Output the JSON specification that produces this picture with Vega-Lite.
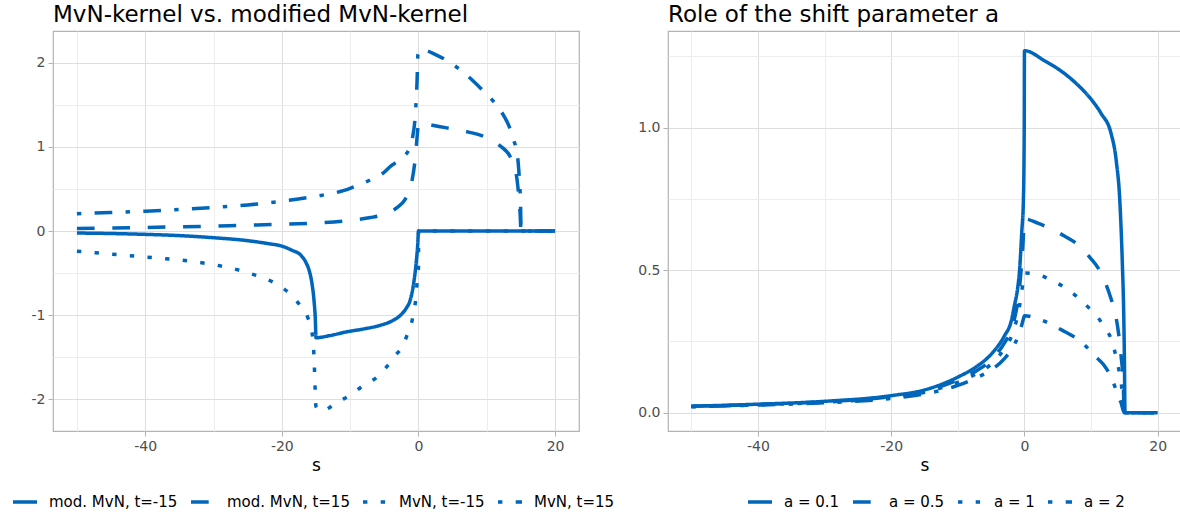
{
  "$schema": "https://vega.github.io/schema/vega-lite/v6.json",
  "padding": {"left": 10, "top": 3, "right": 0, "bottom": 0},
  "background": "white",
  "config": {
    "view": {"stroke": "#b3b3b3", "strokeWidth": 1.2},
    "axis": {
      "domain": false,
      "labelFont": "DejaVu Sans",
      "labelFontSize": 14,
      "labelColor": "#4d4d4d",
      "labelPadding": 3,
      "tickSize": 5,
      "titleFont": "DejaVu Sans",
      "titleFontSize": 17,
      "titleFontWeight": "normal",
      "titleColor": "black",
      "titlePadding": 4
    },
    "title": {"font": "DejaVu Sans", "fontSize": 23, "fontWeight": "normal", "color": "black", "anchor": "start", "frame": "group", "offset": 4},
    "legend": {
      "labelFont": "DejaVu Sans",
      "labelFontSize": 15,
      "labelColor": "black",
      "labelLimit": 0,
      "symbolType": "stroke",
      "symbolSize": 576,
      "symbolStrokeWidth": 3.5,
      "symbolStrokeColor": "#0066bb",
      "labelOffset": 10,
      "columnPadding": 6,
      "padding": 0
    }
  },
  "datasets": {
    "left": [
      {"s": -50, "y": 0.205, "series": "MvN, t=15"},
      {"s": -45, "y": 0.22, "series": "MvN, t=15"},
      {"s": -40, "y": 0.235, "series": "MvN, t=15"},
      {"s": -35, "y": 0.255, "series": "MvN, t=15"},
      {"s": -30, "y": 0.28, "series": "MvN, t=15"},
      {"s": -25, "y": 0.31, "series": "MvN, t=15"},
      {"s": -20, "y": 0.355, "series": "MvN, t=15"},
      {"s": -16, "y": 0.4, "series": "MvN, t=15"},
      {"s": -13.5, "y": 0.435, "series": "MvN, t=15"},
      {"s": -11, "y": 0.48, "series": "MvN, t=15"},
      {"s": -9.5, "y": 0.525, "series": "MvN, t=15"},
      {"s": -7, "y": 0.61, "series": "MvN, t=15"},
      {"s": -5, "y": 0.7, "series": "MvN, t=15"},
      {"s": -4.1, "y": 0.77, "series": "MvN, t=15"},
      {"s": -3, "y": 0.83, "series": "MvN, t=15"},
      {"s": -2.1, "y": 0.89, "series": "MvN, t=15"},
      {"s": -1.4, "y": 0.97, "series": "MvN, t=15"},
      {"s": -0.92, "y": 1.09, "series": "MvN, t=15"},
      {"s": -0.44, "y": 1.41, "series": "MvN, t=15"},
      {"s": -0.2, "y": 1.8, "series": "MvN, t=15"},
      {"s": -0.08, "y": 2.1, "series": "MvN, t=15"},
      {"s": 0.3, "y": 2.16, "series": "MvN, t=15"},
      {"s": 2.5, "y": 2.1, "series": "MvN, t=15"},
      {"s": 4.7, "y": 2.0, "series": "MvN, t=15"},
      {"s": 7, "y": 1.86, "series": "MvN, t=15"},
      {"s": 9.1, "y": 1.7, "series": "MvN, t=15"},
      {"s": 11, "y": 1.54, "series": "MvN, t=15"},
      {"s": 12.5, "y": 1.37, "series": "MvN, t=15"},
      {"s": 13.3, "y": 1.24, "series": "MvN, t=15"},
      {"s": 13.9, "y": 1.09, "series": "MvN, t=15"},
      {"s": 14.5, "y": 0.89, "series": "MvN, t=15"},
      {"s": 14.8, "y": 0.57, "series": "MvN, t=15"},
      {"s": 14.95, "y": 0.3, "series": "MvN, t=15"},
      {"s": 15, "y": 0, "series": "MvN, t=15"},
      {"s": 20, "y": 0, "series": "MvN, t=15"},

      {"s": -50, "y": 0.03, "series": "mod. MvN, t=15"},
      {"s": -40, "y": 0.042, "series": "mod. MvN, t=15"},
      {"s": -30, "y": 0.058, "series": "mod. MvN, t=15"},
      {"s": -25, "y": 0.068, "series": "mod. MvN, t=15"},
      {"s": -20, "y": 0.08, "series": "mod. MvN, t=15"},
      {"s": -15, "y": 0.095, "series": "mod. MvN, t=15"},
      {"s": -11, "y": 0.118, "series": "mod. MvN, t=15"},
      {"s": -9, "y": 0.135, "series": "mod. MvN, t=15"},
      {"s": -7, "y": 0.16, "series": "mod. MvN, t=15"},
      {"s": -5, "y": 0.2, "series": "mod. MvN, t=15"},
      {"s": -3.1, "y": 0.28, "series": "mod. MvN, t=15"},
      {"s": -2, "y": 0.37, "series": "mod. MvN, t=15"},
      {"s": -1.4, "y": 0.47, "series": "mod. MvN, t=15"},
      {"s": -0.92, "y": 0.61, "series": "mod. MvN, t=15"},
      {"s": -0.44, "y": 0.89, "series": "mod. MvN, t=15"},
      {"s": -0.2, "y": 1.12, "series": "mod. MvN, t=15"},
      {"s": -0.05, "y": 1.25, "series": "mod. MvN, t=15"},
      {"s": 0, "y": 1.28, "series": "mod. MvN, t=15"},
      {"s": 3.2, "y": 1.24, "series": "mod. MvN, t=15"},
      {"s": 6.6, "y": 1.19, "series": "mod. MvN, t=15"},
      {"s": 10, "y": 1.11, "series": "mod. MvN, t=15"},
      {"s": 12, "y": 1.01, "series": "mod. MvN, t=15"},
      {"s": 13.4, "y": 0.89, "series": "mod. MvN, t=15"},
      {"s": 14.2, "y": 0.73, "series": "mod. MvN, t=15"},
      {"s": 14.6, "y": 0.49, "series": "mod. MvN, t=15"},
      {"s": 14.9, "y": 0.18, "series": "mod. MvN, t=15"},
      {"s": 15, "y": 0, "series": "mod. MvN, t=15"},
      {"s": 20, "y": 0, "series": "mod. MvN, t=15"},

      {"s": -50, "y": -0.24, "series": "MvN, t=-15"},
      {"s": -45, "y": -0.275, "series": "MvN, t=-15"},
      {"s": -40, "y": -0.31, "series": "MvN, t=-15"},
      {"s": -35, "y": -0.345, "series": "MvN, t=-15"},
      {"s": -30, "y": -0.4, "series": "MvN, t=-15"},
      {"s": -27, "y": -0.45, "series": "MvN, t=-15"},
      {"s": -24.5, "y": -0.51, "series": "MvN, t=-15"},
      {"s": -22, "y": -0.58, "series": "MvN, t=-15"},
      {"s": -20.2, "y": -0.66, "series": "MvN, t=-15"},
      {"s": -18.4, "y": -0.78, "series": "MvN, t=-15"},
      {"s": -17.2, "y": -0.9, "series": "MvN, t=-15"},
      {"s": -16.2, "y": -1.03, "series": "MvN, t=-15"},
      {"s": -15.6, "y": -1.2, "series": "MvN, t=-15"},
      {"s": -15.35, "y": -1.4, "series": "MvN, t=-15"},
      {"s": -15.2, "y": -1.7, "series": "MvN, t=-15"},
      {"s": -15.1, "y": -1.95, "series": "MvN, t=-15"},
      {"s": -15, "y": -2.09, "series": "MvN, t=-15"},
      {"s": -14.6, "y": -2.13, "series": "MvN, t=-15"},
      {"s": -14.1, "y": -2.14, "series": "MvN, t=-15"},
      {"s": -13, "y": -2.1, "series": "MvN, t=-15"},
      {"s": -11.9, "y": -2.04, "series": "MvN, t=-15"},
      {"s": -9.9, "y": -1.95, "series": "MvN, t=-15"},
      {"s": -8.1, "y": -1.84, "series": "MvN, t=-15"},
      {"s": -6.1, "y": -1.74, "series": "MvN, t=-15"},
      {"s": -4.7, "y": -1.62, "series": "MvN, t=-15"},
      {"s": -3.35, "y": -1.48, "series": "MvN, t=-15"},
      {"s": -2.2, "y": -1.35, "series": "MvN, t=-15"},
      {"s": -1.5, "y": -1.2, "series": "MvN, t=-15"},
      {"s": -0.92, "y": -1.06, "series": "MvN, t=-15"},
      {"s": -0.54, "y": -0.9, "series": "MvN, t=-15"},
      {"s": -0.34, "y": -0.77, "series": "MvN, t=-15"},
      {"s": -0.2, "y": -0.61, "series": "MvN, t=-15"},
      {"s": -0.05, "y": -0.47, "series": "MvN, t=-15"},
      {"s": 0, "y": -0.44, "series": "MvN, t=-15"},
      {"s": 0.02, "y": 0, "series": "MvN, t=-15"},
      {"s": 20, "y": 0, "series": "MvN, t=-15"},

      {"s": -50, "y": -0.024, "series": "mod. MvN, t=-15"},
      {"s": -45, "y": -0.03, "series": "mod. MvN, t=-15"},
      {"s": -40, "y": -0.04, "series": "mod. MvN, t=-15"},
      {"s": -35, "y": -0.055, "series": "mod. MvN, t=-15"},
      {"s": -30, "y": -0.08, "series": "mod. MvN, t=-15"},
      {"s": -25, "y": -0.115, "series": "mod. MvN, t=-15"},
      {"s": -22, "y": -0.15, "series": "mod. MvN, t=-15"},
      {"s": -20, "y": -0.18, "series": "mod. MvN, t=-15"},
      {"s": -18.5, "y": -0.23, "series": "mod. MvN, t=-15"},
      {"s": -17.2, "y": -0.29, "series": "mod. MvN, t=-15"},
      {"s": -16.5, "y": -0.37, "series": "mod. MvN, t=-15"},
      {"s": -16, "y": -0.47, "series": "mod. MvN, t=-15"},
      {"s": -15.6, "y": -0.62, "series": "mod. MvN, t=-15"},
      {"s": -15.3, "y": -0.82, "series": "mod. MvN, t=-15"},
      {"s": -15.1, "y": -1.05, "series": "mod. MvN, t=-15"},
      {"s": -15, "y": -1.27, "series": "mod. MvN, t=-15"},
      {"s": -13, "y": -1.245, "series": "mod. MvN, t=-15"},
      {"s": -10.5, "y": -1.2, "series": "mod. MvN, t=-15"},
      {"s": -8, "y": -1.165, "series": "mod. MvN, t=-15"},
      {"s": -5.5, "y": -1.12, "series": "mod. MvN, t=-15"},
      {"s": -4, "y": -1.075, "series": "mod. MvN, t=-15"},
      {"s": -2.6, "y": -1.0, "series": "mod. MvN, t=-15"},
      {"s": -1.8, "y": -0.92, "series": "mod. MvN, t=-15"},
      {"s": -1.2, "y": -0.82, "series": "mod. MvN, t=-15"},
      {"s": -0.7, "y": -0.62, "series": "mod. MvN, t=-15"},
      {"s": -0.3, "y": -0.35, "series": "mod. MvN, t=-15"},
      {"s": -0.1, "y": -0.15, "series": "mod. MvN, t=-15"},
      {"s": 0, "y": 0, "series": "mod. MvN, t=-15"},
      {"s": 20, "y": 0, "series": "mod. MvN, t=-15"}
    ],
    "right": [
      {"s": -50, "y": 0.021, "a": "a = 2"},
      {"s": -40, "y": 0.027, "a": "a = 2"},
      {"s": -30, "y": 0.035, "a": "a = 2"},
      {"s": -20, "y": 0.05, "a": "a = 2"},
      {"s": -15, "y": 0.066, "a": "a = 2"},
      {"s": -10, "y": 0.096, "a": "a = 2"},
      {"s": -7, "y": 0.125, "a": "a = 2"},
      {"s": -5, "y": 0.15, "a": "a = 2"},
      {"s": -3, "y": 0.19, "a": "a = 2"},
      {"s": -2, "y": 0.22, "a": "a = 2"},
      {"s": -1.5, "y": 0.24, "a": "a = 2"},
      {"s": -1, "y": 0.265, "a": "a = 2"},
      {"s": -0.5, "y": 0.3, "a": "a = 2"},
      {"s": -0.2, "y": 0.325, "a": "a = 2"},
      {"s": 0, "y": 0.34, "a": "a = 2"},
      {"s": 2, "y": 0.33, "a": "a = 2"},
      {"s": 4, "y": 0.31, "a": "a = 2"},
      {"s": 6, "y": 0.285, "a": "a = 2"},
      {"s": 8, "y": 0.258, "a": "a = 2"},
      {"s": 10, "y": 0.215, "a": "a = 2"},
      {"s": 11, "y": 0.19, "a": "a = 2"},
      {"s": 12, "y": 0.165, "a": "a = 2"},
      {"s": 13, "y": 0.125, "a": "a = 2"},
      {"s": 14, "y": 0.065, "a": "a = 2"},
      {"s": 14.5, "y": 0.035, "a": "a = 2"},
      {"s": 15, "y": 0, "a": "a = 2"},
      {"s": 20, "y": 0, "a": "a = 2"},

      {"s": -50, "y": 0.022, "a": "a = 1"},
      {"s": -40, "y": 0.028, "a": "a = 1"},
      {"s": -30, "y": 0.037, "a": "a = 1"},
      {"s": -20, "y": 0.054, "a": "a = 1"},
      {"s": -15, "y": 0.072, "a": "a = 1"},
      {"s": -10, "y": 0.107, "a": "a = 1"},
      {"s": -7, "y": 0.14, "a": "a = 1"},
      {"s": -5, "y": 0.17, "a": "a = 1"},
      {"s": -3, "y": 0.225, "a": "a = 1"},
      {"s": -2, "y": 0.265, "a": "a = 1"},
      {"s": -1.5, "y": 0.3, "a": "a = 1"},
      {"s": -1, "y": 0.34, "a": "a = 1"},
      {"s": -0.5, "y": 0.41, "a": "a = 1"},
      {"s": -0.2, "y": 0.46, "a": "a = 1"},
      {"s": 0, "y": 0.49, "a": "a = 1"},
      {"s": 2, "y": 0.485, "a": "a = 1"},
      {"s": 4, "y": 0.465, "a": "a = 1"},
      {"s": 6, "y": 0.44, "a": "a = 1"},
      {"s": 8, "y": 0.405, "a": "a = 1"},
      {"s": 10, "y": 0.36, "a": "a = 1"},
      {"s": 11, "y": 0.335, "a": "a = 1"},
      {"s": 12, "y": 0.3, "a": "a = 1"},
      {"s": 13, "y": 0.26, "a": "a = 1"},
      {"s": 14, "y": 0.17, "a": "a = 1"},
      {"s": 14.5, "y": 0.11, "a": "a = 1"},
      {"s": 15, "y": 0, "a": "a = 1"},
      {"s": 20, "y": 0, "a": "a = 1"},

      {"s": -50, "y": 0.023, "a": "a = 0.5"},
      {"s": -40, "y": 0.029, "a": "a = 0.5"},
      {"s": -30, "y": 0.039, "a": "a = 0.5"},
      {"s": -20, "y": 0.057, "a": "a = 0.5"},
      {"s": -15, "y": 0.076, "a": "a = 0.5"},
      {"s": -10, "y": 0.115, "a": "a = 0.5"},
      {"s": -7, "y": 0.15, "a": "a = 0.5"},
      {"s": -5, "y": 0.185, "a": "a = 0.5"},
      {"s": -3, "y": 0.245, "a": "a = 0.5"},
      {"s": -2, "y": 0.29, "a": "a = 0.5"},
      {"s": -1.5, "y": 0.33, "a": "a = 0.5"},
      {"s": -1, "y": 0.39, "a": "a = 0.5"},
      {"s": -0.5, "y": 0.5, "a": "a = 0.5"},
      {"s": -0.2, "y": 0.6, "a": "a = 0.5"},
      {"s": 0, "y": 0.68, "a": "a = 0.5"},
      {"s": 2, "y": 0.665, "a": "a = 0.5"},
      {"s": 4, "y": 0.645, "a": "a = 0.5"},
      {"s": 6, "y": 0.62, "a": "a = 0.5"},
      {"s": 8, "y": 0.59, "a": "a = 0.5"},
      {"s": 10, "y": 0.54, "a": "a = 0.5"},
      {"s": 11, "y": 0.51, "a": "a = 0.5"},
      {"s": 12, "y": 0.465, "a": "a = 0.5"},
      {"s": 13, "y": 0.4, "a": "a = 0.5"},
      {"s": 13.5, "y": 0.36, "a": "a = 0.5"},
      {"s": 14, "y": 0.3, "a": "a = 0.5"},
      {"s": 14.5, "y": 0.2, "a": "a = 0.5"},
      {"s": 14.8, "y": 0.12, "a": "a = 0.5"},
      {"s": 15, "y": 0, "a": "a = 0.5"},
      {"s": 20, "y": 0, "a": "a = 0.5"},

      {"s": -50, "y": 0.023, "a": "a = 0.1"},
      {"s": -40, "y": 0.03, "a": "a = 0.1"},
      {"s": -30, "y": 0.04, "a": "a = 0.1"},
      {"s": -20, "y": 0.06, "a": "a = 0.1"},
      {"s": -15, "y": 0.08, "a": "a = 0.1"},
      {"s": -10, "y": 0.125, "a": "a = 0.1"},
      {"s": -7, "y": 0.165, "a": "a = 0.1"},
      {"s": -5, "y": 0.205, "a": "a = 0.1"},
      {"s": -3, "y": 0.27, "a": "a = 0.1"},
      {"s": -2, "y": 0.32, "a": "a = 0.1"},
      {"s": -1.5, "y": 0.376, "a": "a = 0.1"},
      {"s": -1, "y": 0.44, "a": "a = 0.1"},
      {"s": -0.75, "y": 0.494, "a": "a = 0.1"},
      {"s": -0.4, "y": 0.634, "a": "a = 0.1"},
      {"s": -0.15, "y": 0.75, "a": "a = 0.1"},
      {"s": -0.03, "y": 1.0, "a": "a = 0.1"},
      {"s": 0, "y": 1.27, "a": "a = 0.1"},
      {"s": 3, "y": 1.235, "a": "a = 0.1"},
      {"s": 6, "y": 1.19, "a": "a = 0.1"},
      {"s": 8, "y": 1.15, "a": "a = 0.1"},
      {"s": 10, "y": 1.1, "a": "a = 0.1"},
      {"s": 11.5, "y": 1.05, "a": "a = 0.1"},
      {"s": 13, "y": 0.98, "a": "a = 0.1"},
      {"s": 13.8, "y": 0.88, "a": "a = 0.1"},
      {"s": 14.3, "y": 0.75, "a": "a = 0.1"},
      {"s": 14.7, "y": 0.52, "a": "a = 0.1"},
      {"s": 14.9, "y": 0.35, "a": "a = 0.1"},
      {"s": 15, "y": 0.2, "a": "a = 0.1"},
      {"s": 15.1, "y": 0, "a": "a = 0.1"},
      {"s": 20, "y": 0, "a": "a = 0.1"}
    ]
  },
  "hconcat": [
    {
      "width": 526,
      "height": 400,
      "title": "MvN-kernel vs. modified MvN-kernel",
      "data": {"name": "left"},
      "mark": {"type": "line", "strokeWidth": 3.5, "color": "#0066bb", "strokeCap": "butt", "interpolate": "monotone"},
      "encoding": {
        "x": {
          "field": "s", "type": "quantitative", "title": "s",
          "scale": {"domain": [-53.5, 23.5], "nice": false, "zero": false},
          "axis": {
            "values": [-50, -40, -30, -20, -10, 0, 10, 20],
            "labelExpr": "datum.value % 20 === 0 ? '' + datum.value : ''",
            "tickColor": {"condition": {"test": "datum.value % 20 !== 0", "value": "transparent"}, "value": "#b3b3b3"},
            "gridColor": {"condition": {"test": "datum.value % 20 !== 0", "value": "#ededed"}, "value": "#dedede"}
          }
        },
        "y": {
          "field": "y", "type": "quantitative", "title": null,
          "scale": {"domain": [-2.38, 2.38], "nice": false, "zero": false},
          "axis": {
            "values": [-2, -1.5, -1, -0.5, 0, 0.5, 1, 1.5, 2],
            "labelExpr": "datum.value % 1 === 0 ? '' + datum.value : ''",
            "tickColor": {"condition": {"test": "datum.value % 1 !== 0", "value": "transparent"}, "value": "#b3b3b3"},
            "gridColor": {"condition": {"test": "datum.value % 1 !== 0", "value": "#ededed"}, "value": "#dedede"}
          }
        },
        "strokeDash": {
          "field": "series", "type": "nominal",
          "scale": {
            "domain": ["mod. MvN, t=-15", "mod. MvN, t=15", "MvN, t=-15", "MvN, t=15"],
            "range": [[1, 0], [17.7, 17.7], [4.4, 13.3], [4.4, 13.3, 17.7, 13.3]]
          },
          "legend": {"orient": "none", "legendX": -42, "legendY": 457, "direction": "horizontal", "columns": 4, "title": null}
        }
      }
    },
    {
      "width": 513,
      "height": 400,
      "title": "Role of the shift parameter a",
      "data": {"name": "right"},
      "mark": {"type": "line", "strokeWidth": 3.5, "color": "#0066bb", "strokeCap": "butt", "interpolate": "monotone"},
      "encoding": {
        "x": {
          "field": "s", "type": "quantitative", "title": "s",
          "scale": {"domain": [-53.5, 23.5], "nice": false, "zero": false},
          "axis": {
            "values": [-50, -40, -30, -20, -10, 0, 10, 20],
            "labelExpr": "datum.value % 20 === 0 ? '' + datum.value : ''",
            "tickColor": {"condition": {"test": "datum.value % 20 !== 0", "value": "transparent"}, "value": "#b3b3b3"},
            "gridColor": {"condition": {"test": "datum.value % 20 !== 0", "value": "#ededed"}, "value": "#dedede"}
          }
        },
        "y": {
          "field": "y", "type": "quantitative", "title": null,
          "scale": {"domain": [-0.064, 1.339], "nice": false, "zero": false},
          "axis": {
            "values": [0, 0.25, 0.5, 0.75, 1, 1.25],
            "labelExpr": "datum.value % 0.5 === 0 ? format(datum.value, '.1f') : ''",
            "tickColor": {"condition": {"test": "datum.value % 0.5 !== 0", "value": "transparent"}, "value": "#b3b3b3"},
            "gridColor": {"condition": {"test": "datum.value % 0.5 !== 0", "value": "#ededed"}, "value": "#dedede"}
          }
        },
        "strokeDash": {
          "field": "a", "type": "nominal",
          "scale": {
            "domain": ["a = 0.1", "a = 0.5", "a = 1", "a = 2"],
            "range": [[1, 0], [17.7, 17.7], [4.4, 13.3], [4.4, 13.3, 17.7, 13.3]]
          },
          "legend": {"orient": "none", "legendX": 78, "legendY": 457, "direction": "horizontal", "columns": 4, "title": null}
        }
      }
    }
  ],
  "resolve": {"scale": {"strokeDash": "independent"}, "legend": {"strokeDash": "independent"}},
  "spacing": 89,
  "bounds": "flush"
}
